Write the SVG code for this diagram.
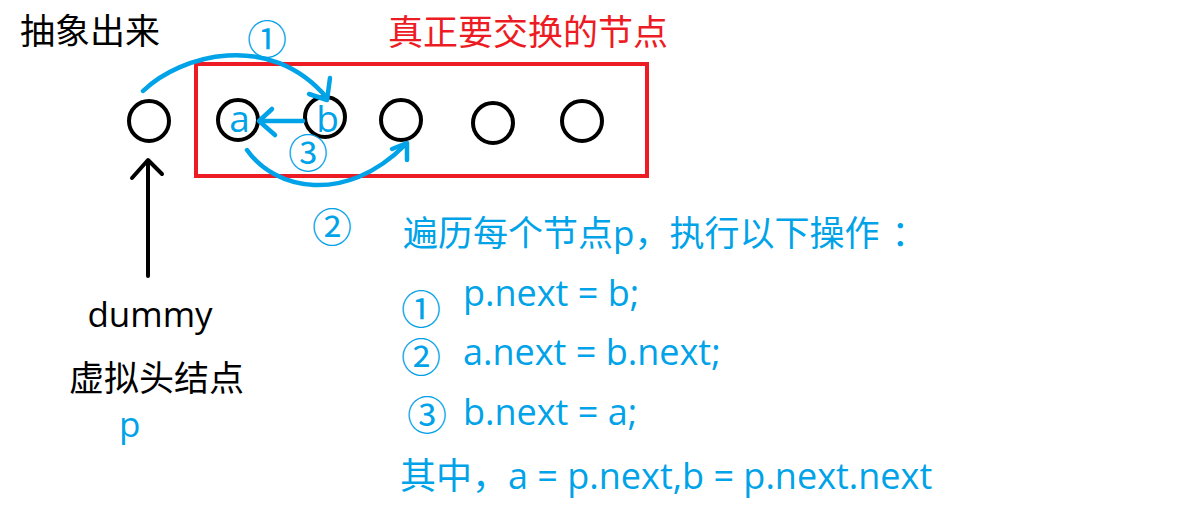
<svg xmlns="http://www.w3.org/2000/svg" width="1185" height="517" viewBox="0 0 1185 517">
<style>
  .t { font-family: "Open Sans", "Noto Sans CJK SC", sans-serif; }
  .cjk { font-family: "Noto Sans CJK SC", sans-serif; }
  .blue { fill: #00A2E8; }
  .black { fill: #000; }
  .node { fill: none; stroke: #000; stroke-width: 4; }
  .bl { fill: none; stroke: #00A2E8; stroke-width: 4.5; stroke-linecap: round; stroke-linejoin: round; }
  .kl { fill: none; stroke: #000; stroke-width: 4; stroke-linecap: round; stroke-linejoin: round; }
  .num { font-family: "Noto Sans CJK SC", sans-serif; font-size: 40px; fill: #00A2E8; text-anchor: middle; dominant-baseline: central; }
</style>
<rect width="1185" height="517" fill="#fff"/>

<text class="cjk black" x="20" y="44" font-size="35">抽象出来</text>
<text class="cjk" x="388" y="45" font-size="35" fill="#ED1C24">真正要交换的节点</text>

<rect id="box" x="196" y="64" width="451" height="112" fill="none" stroke="#ED1C24" stroke-width="4"/>

<g id="dummy"><circle class="node" cx="149" cy="121" r="20"/></g>
<g id="a"><circle class="node" cx="238" cy="120" r="20"/><text class="t blue" x="239.5" y="132" font-size="37" text-anchor="middle">a</text></g>
<g id="b"><circle class="node" cx="325" cy="117" r="20"/><text class="t blue" x="327.5" y="132" font-size="37" text-anchor="middle">b</text></g>
<g id="n3"><circle class="node" cx="401" cy="120" r="20"/></g>
<g id="n4"><circle class="node" cx="493" cy="123" r="20"/></g>
<g id="n5"><circle class="node" cx="582" cy="121" r="20"/></g>

<g id="connectors">
  <path class="bl" d="M143,91 C180,55 270,30 327,98"/>
  <polyline class="bl" points="309,94 327,100 330,78"/>
  <path class="bl" d="M247,150 C275,190 345,205 405,145"/>
  <polyline class="bl" points="392,149 407,143 407,160"/>
  <line class="bl" x1="303" y1="121" x2="260" y2="121"/>
  <polyline class="bl" points="272,109 259,121 275,135"/>
  <line class="kl" x1="148" y1="162" x2="148" y2="276"/>
  <polyline class="kl" points="132,178 148,160 162,174"/>
</g>

<text class="num" x="267" y="37">①</text>
<text class="num" x="308" y="151">③</text>
<text class="num" x="332" y="225">②</text>

<text class="t black" x="150" y="327" font-size="35" text-anchor="middle">dummy</text>
<text class="cjk black" x="69" y="391" font-size="35">虚拟头结点</text>
<text class="t blue" x="119" y="437" font-size="35">p</text>

<text class="t blue" x="403" y="246" font-size="35">遍历每个节点p，执行以下操作<tspan dx="12">：</tspan></text>
<text class="num" x="421" y="307">①</text>
<text class="t blue" x="463" y="306" font-size="36">p.next = b;</text>
<text class="num" x="421" y="355">②</text>
<text class="t blue" x="463" y="365" font-size="36">a.next = b.next;</text>
<text class="num" x="427" y="413">③</text>
<text class="t blue" x="463" y="425" font-size="36">b.next = a;</text>
<text class="t blue" x="400" y="489" font-size="36">其中，a = p.next,b = p.next.next</text>
</svg>
